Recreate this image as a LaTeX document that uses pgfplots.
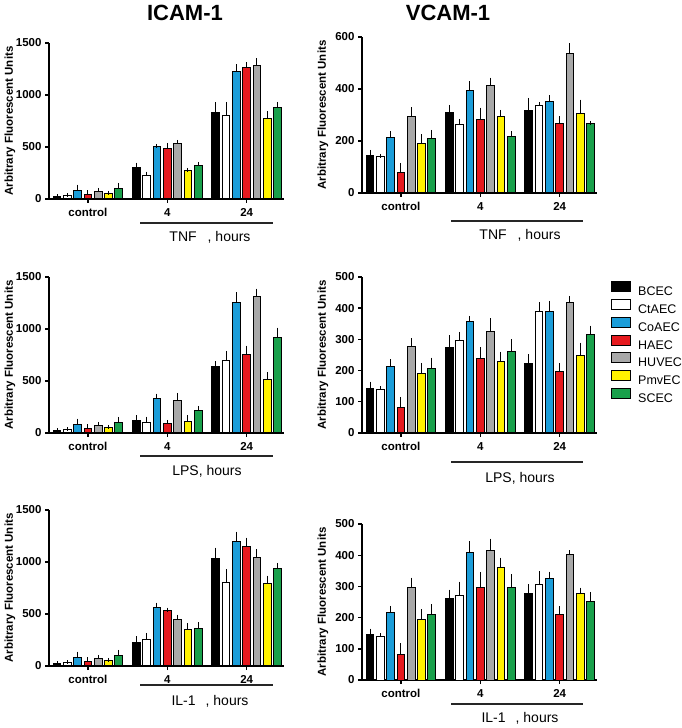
\documentclass[border=0pt]{standalone}
\usepackage{fontspec}
\setmainfont{Liberation Sans}
\usepackage{pgfplots}
\usepackage{pgfplotstable}
\pgfplotsset{compat=1.18}

\definecolor{cBC}{RGB}{0,0,0}
\definecolor{cCT}{RGB}{255,255,255}
\definecolor{cCO}{RGB}{27,157,217}
\definecolor{cHA}{RGB}{230,25,30}
\definecolor{cHU}{RGB}{168,168,168}
\definecolor{cPM}{RGB}{255,242,0}
\definecolor{cSC}{RGB}{25,160,75}

% columns: x, BCEC, err, CtAEC, err, CoAEC, err, HAEC, err, HUVEC, err, PmvEC, err, SCEC, err
\pgfplotstableread{
x bc bce ct cte co coe ha hae hu hue pm pme sc sce
0 20 8 30 8 85 35 45 18 75 12 50 10 100 35
1 300 30 230 15 500 10 490 30 530 20 270 10 325 12
2 835 75 800 115 1222 55 1266 30 1279 55 775 50 880 35
}\tabTL
\pgfplotstableread{
x bc bce ct cte co coe ha hae hu hue pm pme sc sce
0 144 14 140 3 214 15 80 28 294 28 191 28 209 26
1 311 20 262 15 396 26 283 38 412 24 294 18 218 11
2 317 41 338 4 351 17 266 22 536 32 306 45 268 2
}\tabTR
\pgfplotstableread{
x bc bce ct cte co coe ha hae hu hue pm pme sc sce
0 20 8 30 8 85 35 45 18 75 12 50 10 100 35
1 120 30 100 37 328 32 92 16 312 54 115 38 217 25
2 635 38 700 70 1252 83 758 64 1309 60 515 48 917 76
}\tabML
\pgfplotstableread{
x bc bce ct cte co coe ha hae hu hue pm pme sc sce
0 144 14 141 3 214 16 83 26 276 21 190 28 208 27
1 275 32 296 22 356 13 240 29 324 38 229 25 260 34
2 222 24 388 24 390 27 198 19 417 16 248 35 317 21
}\tabMR
\pgfplotstableread{
x bc bce ct cte co coe ha hae hu hue pm pme sc sce
0 20 8 30 8 85 35 45 18 75 12 50 10 100 35
1 230 38 250 50 565 25 535 6 443 32 355 38 365 35
2 1030 89 800 112 1200 73 1150 64 1040 64 795 54 940 32
}\tabBL
\pgfplotstableread{
x bc bce ct cte co coe ha hae hu hue pm pme sc sce
0 146 12 141 3 216 15 83 28 295 27 194 26 210 26
1 260 23 272 37 408 31 296 44 416 31 360 26 297 36
2 278 22 305 37 324 17 210 20 402 7 277 13 251 25
}\tabBR

\newcommand\bars[1]{%
\addplot[fill=cBC] table[x=x,y=bc,y error=bce]{#1};
\addplot[fill=cCT] table[x=x,y=ct,y error=cte]{#1};
\addplot[fill=cCO] table[x=x,y=co,y error=coe]{#1};
\addplot[fill=cHA] table[x=x,y=ha,y error=hae]{#1};
\addplot[fill=cHU] table[x=x,y=hu,y error=hue]{#1};
\addplot[fill=cPM] table[x=x,y=pm,y error=pme]{#1};
\addplot[fill=cSC] table[x=x,y=sc,y error=sce]{#1};
}

\pgfplotsset{
  panel/.style={
    scale only axis, width=235pt, height=156pt, anchor=south west,
    ybar=2.6pt, bar width=7.7pt, ymin=0,
    xmin=-0.49, xmax=2.47, xtick={0,1,2}, xticklabels={control,4,24},
    axis x line*=bottom, axis y line*=left,
    tick align=outside, major tick length=4pt,
    axis line style={line width=1.4pt},
    every tick/.style={black, line width=1.4pt},
    tick label style={font=\bfseries\fontsize{11.5}{13}\selectfont},
    xticklabel style={yshift=-2pt},
    /pgf/number format/assume math mode=true,
    /pgf/number format/1000 sep={},
    ylabel={Arbitrary Fluorescent Units},
    ylabel style={font=\bfseries\fontsize{11.5}{13}\selectfont,
      at={(axis description cs:-0.166,0.5)}, anchor=center},
    clip=false,
    every axis plot/.append style={draw=black, line width=1pt},
    error bars/y dir=plus, error bars/y explicit,
    error bars/error bar style={line width=1pt, black},
    error bars/error mark options={black, line width=1pt, mark size=2pt},
    legend image code/.code={\draw[#1, draw=black, line width=1pt] (0pt,-0.5pt) rectangle (19pt,9.5pt);},
  }
}

\begin{document}
\begin{tikzpicture}[x=1pt,y=1pt]
\path[use as bounding box] (0,0) rectangle (682,728);

\node[font=\bfseries\fontsize{22}{22}\selectfont] at (185,715) {ICAM-1};
\node[font=\bfseries\fontsize{22}{22}\selectfont] at (448,715) {VCAM-1};

% top row
\begin{axis}[panel, at={(49pt,529pt)}, ymax=1500, ytick={0,500,1000,1500}]
\bars{\tabTL}
\end{axis}
\begin{axis}[panel, at={(362pt,535pt)}, ymax=600, ytick={0,200,400,600}]
\bars{\tabTR}
\end{axis}

% middle row
\begin{axis}[panel, at={(362pt,295pt)}, ymax=500, ytick={0,100,...,500},
  legend style={at={(axis description cs:1,1)}, anchor=north west,
    xshift=11pt, yshift=-2pt,
    draw=none, fill=none, font=\fontsize{12.5}{13}\selectfont,
    nodes={inner sep=0pt, text height=9pt, text depth=0pt},
    row sep=3.3pt, column sep=0pt, legend cell align=left},
  legend style={/tikz/every odd column/.append style={column sep=7pt}}]
\bars{\tabMR}
\legend{BCEC,CtAEC,CoAEC,HAEC,HUVEC,PmvEC,SCEC}
\end{axis}
\begin{axis}[panel, at={(49pt,295pt)}, ymax=1500, ytick={0,500,1000,1500}]
\bars{\tabML}
\end{axis}

% bottom row
\begin{axis}[panel, at={(49pt,62pt)}, ymax=1500, ytick={0,500,1000,1500}]
\bars{\tabBL}
\end{axis}
\begin{axis}[panel, at={(362pt,48pt)}, ymax=500, ytick={0,100,...,500}]
\bars{\tabBR}
\end{axis}

% treatment brackets and labels
\tikzset{hl/.style={line width=1.8pt, draw=black!85}, tl/.style={font=\fontsize{14}{14}\selectfont}}
\draw[hl] (140,505) -- (273,505);
\node[tl] at (210,491) {TNF\hspace{11pt}, hours};
\draw[hl] (451,507) -- (583,507);
\node[tl] at (520,493) {TNF\hspace{11pt}, hours};
\draw[hl] (140,272) -- (273,272);
\node[tl] at (207,257) {LPS, hours};
\draw[hl] (451,266) -- (583,266);
\node[tl] at (520,250) {LPS, hours};
\draw[hl] (140,43) -- (273,43);
\node[tl] at (210,27) {IL-1\hspace{10pt}, hours};
\draw[hl] (451,24) -- (583,24);
\node[tl] at (520,10) {IL-1\hspace{10pt}, hours};
\end{tikzpicture}
\end{document}
